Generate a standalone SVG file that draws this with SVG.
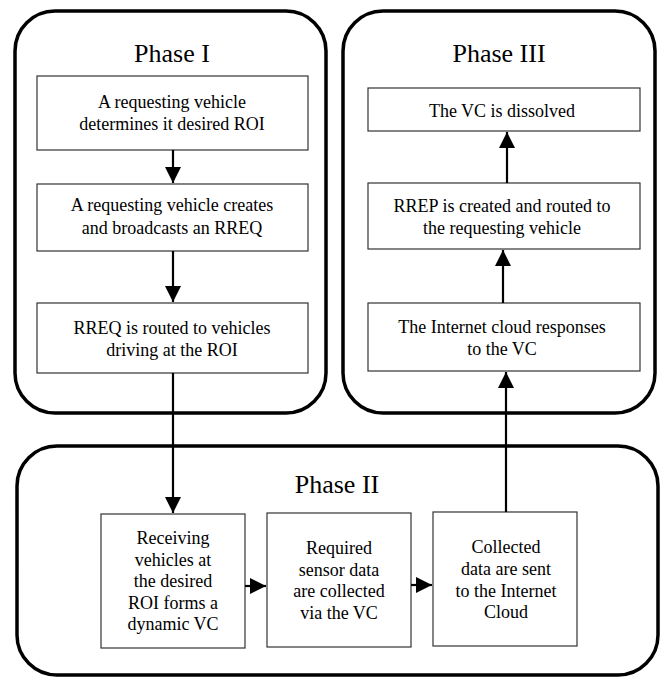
<svg xmlns="http://www.w3.org/2000/svg" width="662" height="677" viewBox="0 0 662 677">
<style>
.phase{fill:#fff;stroke:#000;stroke-width:3.5}
.box{fill:#fff;stroke:#333;stroke-width:1.2}
.t{font-family:'Liberation Serif',serif;font-size:18px;fill:#000;text-anchor:middle}
.title{font-family:'Liberation Serif',serif;font-size:26px;fill:#000;text-anchor:middle}
.conn{fill:none;stroke:#000;stroke-width:2.2}
</style>
<defs>
<marker id="ah" markerUnits="userSpaceOnUse" markerWidth="16" markerHeight="16" viewBox="0 0 16 16" refX="16" refY="8" orient="auto">
<path d="M0,0 L16,8 L0,16 Z" fill="#000"/>
</marker>
</defs>
<g id="phase1">
<rect class="phase" x="15" y="11" width="311" height="402" rx="40" ry="40"/>
<text class="title" x="172" y="62">Phase I</text>
</g>
<g id="phase3">
<rect class="phase" x="343" y="11" width="312" height="402" rx="40" ry="40"/>
<text class="title" x="499" y="62">Phase III</text>
</g>
<g id="phase2">
<rect class="phase" x="17" y="446" width="641" height="229" rx="40" ry="40"/>
<text class="title" x="337" y="493">Phase II</text>
</g>
<g id="p1b1">
<rect class="box" x="37" y="76" width="271" height="74"/>
<text class="t" x="172" y="108">A requesting vehicle</text>
<text class="t" x="172" y="130">determines it desired ROI</text>
</g>
<g id="p1b2">
<rect class="box" x="37" y="184" width="271" height="67"/>
<text class="t" x="172" y="211">A requesting vehicle creates</text>
<text class="t" x="172" y="234">and broadcasts an RREQ</text>
</g>
<g id="p1b3">
<rect class="box" x="37" y="303" width="271" height="70"/>
<text class="t" x="172" y="334">RREQ is routed to vehicles</text>
<text class="t" x="172" y="356">driving at the ROI</text>
</g>
<g id="p3b1">
<rect class="box" x="368" y="88" width="272" height="43"/>
<text class="t" x="502" y="117">The VC is dissolved</text>
</g>
<g id="p3b2">
<rect class="box" x="368" y="183" width="272" height="66"/>
<text class="t" x="502" y="212">RREP is created and routed to</text>
<text class="t" x="502" y="234">the requesting vehicle</text>
</g>
<g id="p3b3">
<rect class="box" x="368" y="303" width="272" height="68"/>
<text class="t" x="502" y="333">The Internet cloud responses</text>
<text class="t" x="502" y="355">to the VC</text>
</g>
<g id="p2b1">
<rect class="box" x="101" y="514" width="144" height="134"/>
<text class="t" x="173" y="544">Receiving</text>
<text class="t" x="173" y="566">vehicles at</text>
<text class="t" x="173" y="587">the desired</text>
<text class="t" x="173" y="609">ROI forms a</text>
<text class="t" x="173" y="630">dynamic VC</text>
</g>
<g id="p2b2">
<rect class="box" x="267" y="513" width="144" height="134"/>
<text class="t" x="339" y="554">Required</text>
<text class="t" x="339" y="576">sensor data</text>
<text class="t" x="339" y="597">are collected</text>
<text class="t" x="339" y="619">via the VC</text>
</g>
<g id="p2b3">
<rect class="box" x="433" y="512" width="144" height="134"/>
<text class="t" x="506" y="553">Collected</text>
<text class="t" x="506" y="575">data are sent</text>
<text class="t" x="506" y="597">to the Internet</text>
<text class="t" x="506" y="618">Cloud</text>
</g>
<g id="connectors">
<line class="conn" x1="173" y1="150" x2="173" y2="183" marker-end="url(#ah)"/>
<line class="conn" x1="173" y1="251" x2="173" y2="302" marker-end="url(#ah)"/>
<line class="conn" x1="173" y1="373" x2="173" y2="513" marker-end="url(#ah)"/>
<line class="conn" x1="245" y1="586" x2="266" y2="586" marker-end="url(#ah)"/>
<line class="conn" x1="411" y1="585" x2="432" y2="585" marker-end="url(#ah)"/>
<line class="conn" x1="506" y1="512" x2="506" y2="372" marker-end="url(#ah)"/>
<line class="conn" x1="503" y1="303" x2="503" y2="250" marker-end="url(#ah)"/>
<line class="conn" x1="507" y1="183" x2="507" y2="132" marker-end="url(#ah)"/>
</g>
</svg>
